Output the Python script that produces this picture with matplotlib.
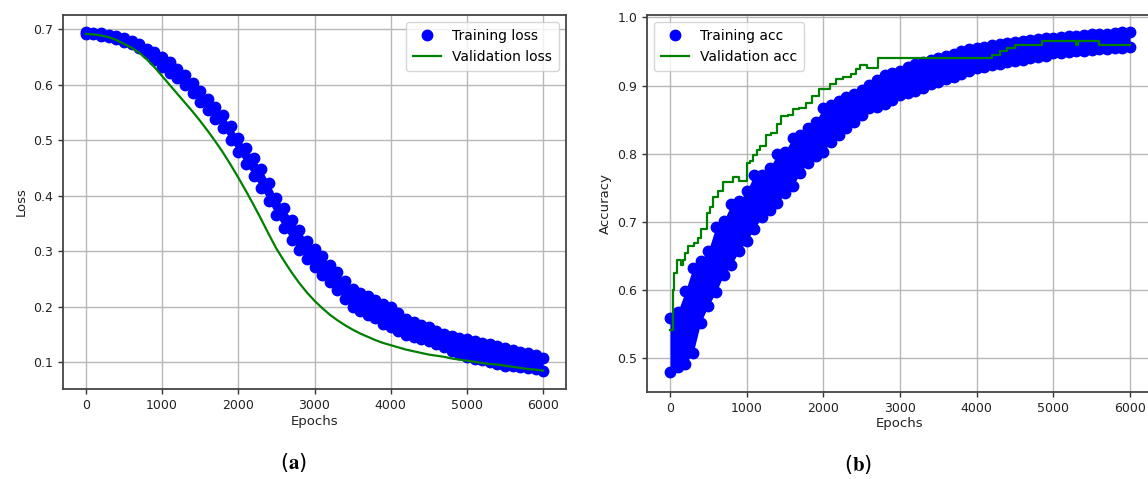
import matplotlib
matplotlib.use("Agg")
import matplotlib.pyplot as plt
import numpy as np

# ---- data (values every 100 epochs) ----
epochs = np.arange(0, 6001, 100)

# training loss: dot centres along the lower and upper edge of the scatter band
loss_hi = [0.695, 0.694, 0.693, 0.690, 0.688, 0.684, 0.679, 0.673, 0.665, 0.659,
           0.651, 0.641, 0.629, 0.618, 0.603, 0.589, 0.575, 0.561, 0.545, 0.526,
           0.504, 0.487, 0.468, 0.449, 0.423, 0.397, 0.378, 0.357, 0.339, 0.318,
           0.305, 0.291, 0.276, 0.263, 0.246, 0.233, 0.225, 0.219, 0.212, 0.206,
           0.200, 0.189, 0.179, 0.173, 0.167, 0.164, 0.157, 0.151, 0.148, 0.144,
           0.143, 0.139, 0.135, 0.133, 0.129, 0.125, 0.122, 0.119, 0.116, 0.114, 0.108]
loss_lo = [0.692, 0.691, 0.689, 0.686, 0.682, 0.678, 0.673, 0.667, 0.658, 0.645,
           0.633, 0.622, 0.612, 0.600, 0.586, 0.569, 0.555, 0.538, 0.522, 0.500,
           0.479, 0.458, 0.436, 0.414, 0.390, 0.365, 0.343, 0.320, 0.302, 0.287,
           0.271, 0.258, 0.244, 0.230, 0.214, 0.200, 0.192, 0.186, 0.180, 0.170,
           0.163, 0.156, 0.150, 0.146, 0.142, 0.139, 0.133, 0.127, 0.121, 0.115,
           0.109, 0.106, 0.104, 0.100, 0.097, 0.094, 0.093, 0.091, 0.089, 0.088, 0.085]

val_loss = [0.692, 0.691, 0.689, 0.686, 0.681, 0.674, 0.667, 0.658, 0.646, 0.632,
            0.616, 0.600, 0.584, 0.568, 0.552, 0.535, 0.517, 0.498, 0.478, 0.456,
            0.433, 0.409, 0.384, 0.358, 0.331, 0.305, 0.283, 0.262, 0.243, 0.226,
            0.211, 0.198, 0.186, 0.176, 0.167, 0.159, 0.152, 0.146, 0.140, 0.135,
            0.131, 0.127, 0.123, 0.120, 0.117, 0.114, 0.112, 0.110, 0.107, 0.105,
            0.103, 0.101, 0.099, 0.097, 0.096, 0.094, 0.092, 0.090, 0.088, 0.087, 0.085]

# training accuracy: dot centres along the lower and upper edge of the band
acc_hi = [0.559, 0.568, 0.598, 0.633, 0.643, 0.658, 0.693, 0.701, 0.726, 0.730,
          0.745, 0.769, 0.769, 0.779, 0.799, 0.803, 0.823, 0.828, 0.838, 0.847,
          0.867, 0.871, 0.878, 0.883, 0.888, 0.893, 0.901, 0.908, 0.916, 0.919,
          0.922, 0.927, 0.932, 0.935, 0.938, 0.940, 0.943, 0.946, 0.950, 0.953,
          0.955, 0.957, 0.959, 0.961, 0.963, 0.964, 0.965, 0.967, 0.968, 0.969,
          0.970, 0.971, 0.972, 0.973, 0.974, 0.975, 0.976, 0.976, 0.977, 0.978, 0.978]
acc_lo = [0.480, 0.487, 0.492, 0.507, 0.552, 0.577, 0.597, 0.622, 0.637, 0.657,
          0.672, 0.690, 0.707, 0.717, 0.727, 0.742, 0.752, 0.772, 0.787, 0.797,
          0.803, 0.817, 0.827, 0.837, 0.847, 0.857, 0.867, 0.869, 0.873, 0.879,
          0.886, 0.889, 0.892, 0.897, 0.902, 0.905, 0.909, 0.913, 0.917, 0.922,
          0.925, 0.927, 0.930, 0.932, 0.934, 0.936, 0.938, 0.940, 0.942, 0.944,
          0.947, 0.948, 0.949, 0.950, 0.951, 0.952, 0.953, 0.954, 0.955, 0.955, 0.956]

# validation accuracy: step changes (epoch, value)
val_acc_ep = [0, 38, 48, 96, 144, 170, 192, 240, 312, 360, 409, 481, 519, 567,
              625, 697, 820, 900, 1010, 1040, 1082, 1130, 1178, 1250, 1322, 1394,
              1442, 1538, 1610, 1683, 1779, 1851, 1947, 2091, 2163, 2260, 2356,
              2428, 2476, 2572, 2716, 4200, 4300, 4400, 4500, 4850, 5300, 5320,
              5340, 5600, 6000]
val_acc = [0.542, 0.600, 0.625, 0.644, 0.637, 0.644, 0.654, 0.664, 0.669, 0.676,
           0.689, 0.713, 0.722, 0.737, 0.745, 0.759, 0.766, 0.760, 0.786, 0.790,
           0.798, 0.806, 0.811, 0.828, 0.830, 0.843, 0.855, 0.857, 0.865, 0.867,
           0.875, 0.885, 0.895, 0.902, 0.909, 0.912, 0.917, 0.924, 0.930, 0.925,
           0.940, 0.945, 0.950, 0.955, 0.960, 0.965, 0.960, 0.965, 0.965, 0.960, 0.960]

BLUE = "#0000ff"
GREEN = "#008000"
MS = 7.5

plt.rcParams["font.family"] = "DejaVu Sans"
plt.rcParams["mathtext.fontset"] = "stix"

fig = plt.figure(figsize=(11.48, 4.79), dpi=100)
W, H = 1148, 479
axA = fig.add_axes([63 / W, (H - 389) / H, 503 / W, 374 / H])
axB = fig.add_axes([647 / W, (H - 392) / H, 506 / W, 377 / H])


def style(ax):
    ax.grid(True, color="#b8b8b8", lw=1.0)
    ax.set_axisbelow(True)
    for s in ax.spines.values():
        s.set_color("#444444")
        s.set_linewidth(1.3)
    ax.tick_params(labelsize=9, color="#333333", length=3.5, width=1, labelcolor="#222222")
    ax.set_xticks(np.arange(0, 6001, 1000))
    ax.set_xlim(-300, 6300)
    ax.set_xlabel("Epochs", fontsize=9.5, color="#222222", labelpad=2)


# ---- (a) loss ----
axA.fill_between(epochs, loss_lo, loss_hi, color=BLUE, lw=0, zorder=2)
axA.plot(epochs, loss_hi, "o", color=BLUE, ms=MS, zorder=2, label="Training loss")
axA.plot(epochs, loss_lo, "o", color=BLUE, ms=MS, zorder=2)
axA.plot(epochs, val_loss, "-", color=GREEN, lw=1.6, zorder=3, label="Validation loss")
style(axA)
axA.set_ylim(0.052, 0.726)
axA.set_yticks([0.1, 0.2, 0.3, 0.4, 0.5, 0.6, 0.7])
axA.set_ylabel("Loss", fontsize=9.5, color="#222222", labelpad=4)
axA.legend(loc="upper right", fontsize=10, numpoints=1, framealpha=0.8,
           edgecolor="#cccccc", borderpad=0.5, handlelength=2.0)

# ---- (b) accuracy ----
axB.fill_between(epochs, acc_lo, acc_hi, color=BLUE, lw=0, zorder=2)
axB.plot(epochs, acc_hi, "o", color=BLUE, ms=MS, zorder=2, label="Training acc")
axB.plot(epochs, acc_lo, "o", color=BLUE, ms=MS, zorder=2)
axB.plot(val_acc_ep, val_acc, "-", color=GREEN, lw=1.6, drawstyle="steps-post",
         zorder=3, label="Validation acc")
style(axB)
axB.set_ylim(0.4505, 1.0034)
axB.set_yticks([0.5, 0.6, 0.7, 0.8, 0.9, 1.0])
axB.set_ylabel("Accuracy", fontsize=9.5, color="#222222", labelpad=4)
axB.legend(loc="upper left", fontsize=10, numpoints=1, framealpha=0.8,
           edgecolor="#cccccc", borderpad=0.5, handlelength=2.0)

fig.text(293 / W, 1 - 463 / H, r"($\mathbf{a}$)", ha="center", va="center", fontsize=15)
fig.text(858 / W, 1 - 465 / H, r"($\mathbf{b}$)", ha="center", va="center", fontsize=15)

fig.savefig("out.png", dpi=100)
